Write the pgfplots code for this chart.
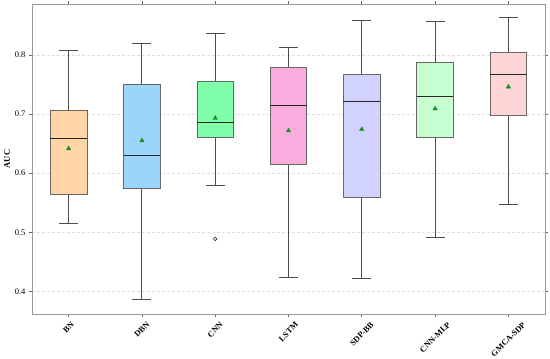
\documentclass[border=0pt]{standalone}
\usepackage{fontspec}
\setmainfont{Liberation Serif}
\usepackage{graphicx}
\usepackage{pgfplots}
\usepgfplotslibrary{statistics}
\pgfplotsset{compat=1.18}
\definecolor{cBN}{RGB}{255,213,165}
\definecolor{cDBN}{RGB}{155,214,250}
\definecolor{cCNN}{RGB}{128,255,170}
\definecolor{cLSTM}{RGB}{250,172,222}
\definecolor{cSDP}{RGB}{210,210,255}
\definecolor{cMLP}{RGB}{200,255,210}
\definecolor{cGM}{RGB}{255,212,212}
\definecolor{meangreen}{RGB}{30,140,40}
\newcommand{\rl}[1]{\rotatebox{45}{\textbf{#1}}}
\begin{document}
\begin{tikzpicture}
\useasboundingbox (-32pt,-45pt) rectangle (518pt,314pt);
\begin{axis}[
  at={(0,0)}, anchor=south west,
  scale only axis, width=513pt, height=310pt,
  xmin=-0.5, xmax=6.5, ymin=0.362, ymax=0.886,
  xtick={0,...,6},
  xticklabels={\rl{BN},\rl{DBN},\rl{CNN},\rl{LSTM},\rl{SDP-BB},\rl{CNN-MLP},\rl{GMCA-SDP}},
  xticklabel style={anchor=north, font=\fontsize{8.3}{9}\selectfont, yshift=-1pt},
  ytick={0.4,0.5,0.6,0.7,0.8},
  yticklabels={0.4,0.5,0.6,0.7,0.8},
  yticklabel style={font=\fontsize{8.5}{10}\selectfont},
  ylabel={\textbf{AUC}}, ylabel style={font=\fontsize{8.5}{10}\selectfont, yshift=-2pt},
  ymajorgrids, major grid style={densely dashed, gray!25, line width=0.6pt},
  axis line style={gray!80, line width=0.9pt},
  tick align=outside, major tick length=3pt,
  tick style={gray!80!black, line width=0.6pt},
  boxplot/draw direction=y,
  boxplot/box extend=0.5,
  boxplot/whisker extend=0.26,
  boxplot/every box/.style={draw=gray!80!black, line width=0.7pt},
  boxplot/every whisker/.style={draw=black!70, line width=0.9pt},
  boxplot/every median/.style={draw=black!85, line width=0.8pt},
]
\addplot[boxplot prepared={draw position=0, lower whisker=0.5155, lower quartile=0.565, median=0.659, upper quartile=0.707, upper whisker=0.807}, fill=cBN, draw=gray!80!black, solid, mark=none] coordinates {};
\addplot[boxplot prepared={draw position=1, lower whisker=0.387, lower quartile=0.5747, median=0.630, upper quartile=0.750, upper whisker=0.820}, fill=cDBN, draw=gray!80!black, solid, mark=none] coordinates {};
\addplot[boxplot prepared={draw position=2, lower whisker=0.5786, lower quartile=0.660, median=0.6855, upper quartile=0.7547, upper whisker=0.836}, fill=cCNN, draw=gray!80!black, solid, mark=*, mark size=1.8pt, mark options={draw=black!80, line width=0.6pt, fill=white}] coordinates {(0,0.489)};
\addplot[boxplot prepared={draw position=3, lower whisker=0.423, lower quartile=0.6157, median=0.715, upper quartile=0.779, upper whisker=0.812}, fill=cLSTM, draw=gray!80!black, solid, mark=none] coordinates {};
\addplot[boxplot prepared={draw position=4, lower whisker=0.4215, lower quartile=0.560, median=0.7216, upper quartile=0.767, upper whisker=0.858}, fill=cSDP, draw=gray!80!black, solid, mark=none] coordinates {};
\addplot[boxplot prepared={draw position=5, lower whisker=0.491, lower quartile=0.661, median=0.729, upper quartile=0.7875, upper whisker=0.857}, fill=cMLP, draw=gray!80!black, solid, mark=none] coordinates {};
\addplot[boxplot prepared={draw position=6, lower whisker=0.547, lower quartile=0.6985, median=0.7677, upper quartile=0.804, upper whisker=0.863}, fill=cGM, draw=gray!80!black, solid, mark=none] coordinates {};
\addplot[only marks, mark=triangle*, mark size=2.6pt, color=meangreen] coordinates {
 (0,0.6415) (1,0.655) (2,0.693) (3,0.672) (4,0.674) (5,0.709) (6,0.746)};
\end{axis}
\end{tikzpicture}
\end{document}
